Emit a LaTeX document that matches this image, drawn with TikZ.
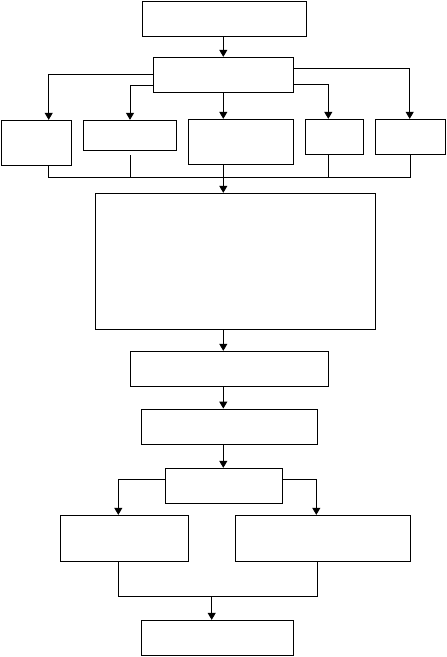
\documentclass[tikz,border=0pt]{standalone}
\usetikzlibrary{arrows.meta}
\begin{document}
\begin{tikzpicture}[x=1pt,y=-1pt,
  box/.style={draw,line width=0.9pt,inner sep=0pt,rectangle},
  conn/.style={line width=0.9pt},
  arr/.style={line width=0.9pt,-{Triangle[length=7pt,width=8pt]}}]
\useasboundingbox (0,0) rectangle (447,657);
\node[box,minimum width=164pt,minimum height=34.7pt] (A) at (224,18.7) {};
\node[box,minimum width=140.4pt,minimum height=35pt] (B) at (223.5,74.8) {};
\node[box,minimum width=70pt,minimum height=45pt] (b1) at (36.7,142.8) {};
\node[box,minimum width=93.4pt,minimum height=30pt] (b2) at (130,135.3) {};
\node[box,minimum width=105pt,minimum height=45pt] (b3) at (241.2,141.8) {};
\node[box,minimum width=58pt,minimum height=35pt] (b4) at (334.7,136.8) {};
\node[box,minimum width=70pt,minimum height=35pt] (b5) at (410.7,136.8) {};
\node[box,minimum width=280.4pt,minimum height=136pt] (C) at (235.5,261.3) {};
\node[box,minimum width=198.4pt,minimum height=35pt] (D) at (229.5,368.8) {};
\node[box,minimum width=176pt,minimum height=35.3pt] (E) at (229.3,426.7) {};
\node[box,minimum width=117.4pt,minimum height=35pt] (F) at (224,485.8) {};
\node[box,minimum width=128.4pt,minimum height=46pt] (G) at (124.5,538.3) {};
\node[box,minimum width=175.4pt,minimum height=46pt] (H) at (323,538.3) {};
\node[box,minimum width=152.4pt,minimum height=35.4pt] (I) at (217.5,638) {};
\coordinate (m) at (223.3,177);
\coordinate (n) at (211.7,596.3);
% top
\draw[arr] (m |- A.south) -- (m |- B.north);
\draw[arr] (B.west) -| ([xshift=12pt]b1.north);
\draw[arr] ([yshift=-10.5pt]B.west) -| (b2.north);
\draw[arr] (m |- B.south) -- (m |- b3.north);
\draw[arr] ([yshift=-9.5pt]B.east) -| ([xshift=-6.4pt]b4.north);
\draw[arr] ([yshift=6.5pt]B.east) -| ([xshift=-1pt]b5.north);
% merge
\draw[conn] ([xshift=12pt]b1.south) |- ([xshift=-0.5pt]b5.south |- m) -- ([xshift=-0.5pt]b5.south);
\draw[conn] ([yshift=-4.7pt]b2.south) -- (b2.south |- m);
\draw[conn] ([xshift=-6.4pt]b4.south) -- ([xshift=-6.4pt]b4.south |- m);
\draw[arr] (m |- b3.south) -- (m |- C.north);
\draw[arr] (m |- C.south) -- (m |- D.north);
\draw[arr] (m |- D.south) -- (m |- E.north);
\draw[arr] (m |- E.south) -- (m |- F.north);
\draw[arr] ([yshift=6.5pt]F.west) -| ([xshift=-6.2pt]G.north);
\draw[arr] ([yshift=6.5pt]F.east) -| ([xshift=-6.7pt]H.north);
\draw[conn] ([xshift=-6.2pt]G.south) |- (n) -| ([xshift=-6pt]H.south);
\draw[arr] (n) -- (n |- I.north);
\end{tikzpicture}
\end{document}
